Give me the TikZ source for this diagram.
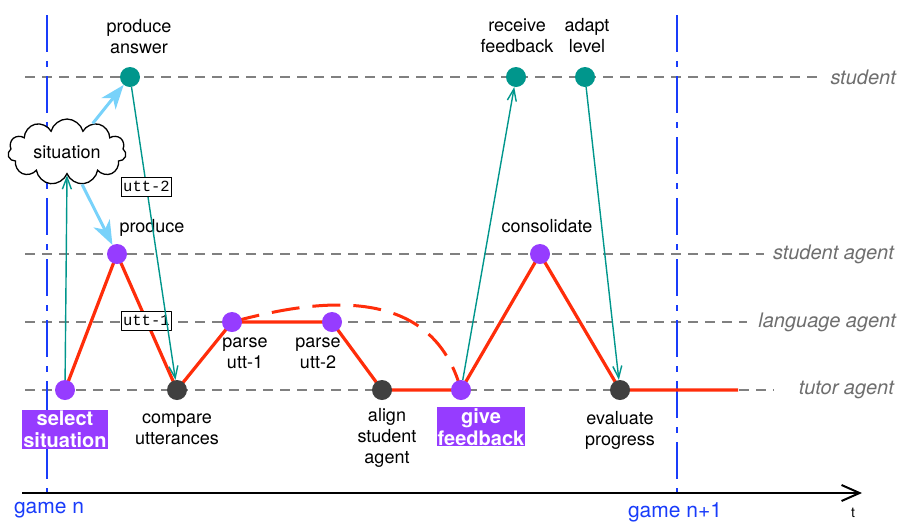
\documentclass[tikz,border=0pt]{standalone}
\usepackage{fontspec}
\setmainfont{TeX Gyre Heros}
\newfontfamily\monofont{Liberation Mono}
\usepackage{xcolor}
\usetikzlibrary{arrows.meta,positioning,shapes.symbols}

\definecolor{gameblue}{RGB}{25,60,250}
\definecolor{flowred}{RGB}{255,45,10}
\definecolor{agpurple}{RGB}{150,60,255}
\definecolor{studteal}{RGB}{0,150,140}
\definecolor{tutgray}{RGB}{64,64,64}
\definecolor{lanegray}{RGB}{110,110,110}
\definecolor{skyblue}{RGB}{120,210,250}

\pgfdeclarelayer{bg}
\pgfsetlayers{bg,main}

\begin{document}
\begin{tikzpicture}[
    x=1pt, y=-1pt,
    every node/.style={font=\fontsize{18}{21}\selectfont},
    dot/.style={circle, minimum size=20pt, inner sep=0pt},
    studot/.style={dot, fill=studteal},
    agdot/.style={dot, fill=agpurple},
    tutdot/.style={dot, fill=tutgray},
    lbl/.style={align=center, inner sep=1pt},
    lanelbl/.style={font=\fontsize{20}{24}\selectfont\itshape, text=lanegray, inner sep=1pt},
    lane/.style={draw=gray, line width=1.6pt, dash pattern=on 10pt off 7pt},
    gameline/.style={draw=gameblue, line width=1.8pt, dash pattern=on 37pt off 9pt on 6pt off 9pt},
    gamelbl/.style={font=\fontsize{21}{24}\selectfont, text=gameblue, inner sep=1pt},
    flow/.style={draw=flowred, line width=3.2pt, line join=round},
    msg/.style={draw=studteal, line width=1.4pt, -{Straight Barb[length=12pt,width=9pt]}},
    inject/.style={draw=skyblue, line width=3pt, -{Stealth[length=24pt,width=18pt,inset=7pt]}},
    uttbox/.style={draw=black, fill=white, text=black, line width=1.2pt, inner xsep=2pt, inner ysep=1pt,
      minimum height=19pt, font=\monofont\fontsize{15.5}{15.5}\selectfont},
    taskbox/.style={fill=agpurple, text=white, font=\fontsize{20}{22}\selectfont\bfseries, align=center, inner sep=1pt}
]
\useasboundingbox (0,0) rectangle (899,523);

% lanes
\node[lanelbl, anchor=east] (lstu) at (897,77) {student};
\node[lanelbl, anchor=east] (lsa) at (895,254) {student agent};
\node[lanelbl, anchor=east] (lla) at (897,322) {language agent};
\node[lanelbl, anchor=east] (lta) at (895,390) {tutor agent};
\coordinate (ostu) at (25,77);
\coordinate (osa) at (25,254);
\coordinate (ola) at (25,322);
\coordinate (ota) at (25,390);

% games and time
\coordinate (gn) at (47,15);
\coordinate (gnb) at (47,501);
\coordinate (gm) at (677,15);
\coordinate (gmb) at (677,501);
\coordinate (t0) at (22,493);
\coordinate (t1) at (862,493);
\node[gamelbl, below=0pt of gnb, xshift=2pt] {game n};
\node[gamelbl, below=0pt of gmb, xshift=-2pt] {game n+1};
\node[font=\fontsize{14}{14}\selectfont, anchor=north, inner sep=0pt] at (853,508) {t};

% steps
\node[studot] (ans) at (130,77) {};
\node[studot] (rf) at (516,77) {};
\node[studot] (al) at (585,77) {};
\node[agdot] (prd) at (117,254) {};
\node[agdot] (con) at (540,254) {};
\node[agdot] (p1) at (232,322) {};
\node[agdot] (p2) at (332,322) {};
\node[agdot] (sel) at (65,390) {};
\node[tutdot] (cmp) at (177,390) {};
\node[tutdot] (aln) at (382,390) {};
\node[agdot] (gf) at (461,390) {};
\node[tutdot] (ev) at (620,390) {};
\coordinate (tend) at (738,390);

\node[draw, cloud, cloud puffs=11, aspect=2, minimum width=118pt, minimum height=57pt,
      fill=white, line width=1.3pt, inner sep=0pt] (sit) at (67,152) {situation};

% step labels
\node[lbl, above=12pt of ans, xshift=9pt] {produce\\answer};
\node[lbl, above=13pt of rf, xshift=1pt] {receive\\feedback};
\node[lbl, above=13pt of al, xshift=2pt] {adapt\\level};
\node[lbl, above=6pt of prd, xshift=35pt] {produce};
\node[lbl, above=10pt of con, xshift=7pt] {consolidate};
\node[lbl, below=4pt of p1, xshift=13pt] {parse\\utt-1};
\node[lbl, below=4pt of p2, xshift=-14pt] {parse\\utt-2};
\node[lbl, below=12pt of cmp] {compare\\utterances};
\node[lbl, below=7pt of aln, xshift=5pt] {align\\student\\agent};
\node[lbl, below=10pt of ev] {evaluate\\progress};
\node[taskbox, below=10pt of sel] {select\\situation};
\node[taskbox, below=7pt of gf, xshift=20pt] {give\\feedback};

\begin{pgfonlayer}{bg}
  \draw[lane] (ostu) -- ([xshift=-11pt]lstu.west);
  \draw[lane] (osa) -- ([xshift=-8pt]lsa.west);
  \draw[lane] (ola) -- ([xshift=-10pt]lla.west);
  \draw[lane] (ota) -- ([xshift=-24pt]lta.west);
  \draw[gameline] (gn) -- (gnb);
  \draw[gameline] (gm) -- (gmb);
  \draw[line width=2pt, -{Straight Barb[length=18pt,width=16pt]}] (t0) -- (t1);
  % the game
  \draw[flow] (sel.center) -- (prd.center) -- node[uttbox, pos=0.49] {utt-1} (cmp.center)
    -- (p1.center) -- (p2.center) -- (aln.center) -- (gf.center) -- (con.center)
    -- (ev.center) -- (tend);
  \draw[flow, line width=3pt, dash pattern=on 28pt off 13pt]
    (p1.center) .. controls (320,298) and (432,284) .. (gf.center);
\end{pgfonlayer}

% messages
\draw[msg] (sel) -- (sit.south);
\draw[msg] (ans) -- node[uttbox, pos=0.34] {utt-2} (cmp);
\draw[msg] (gf) -- (rf);
\draw[msg] (al) -- (ev);
\draw[inject] (sit.48) -- (ans);
\draw[inject] (sit.-65) -- (prd);
\end{tikzpicture}
\end{document}
